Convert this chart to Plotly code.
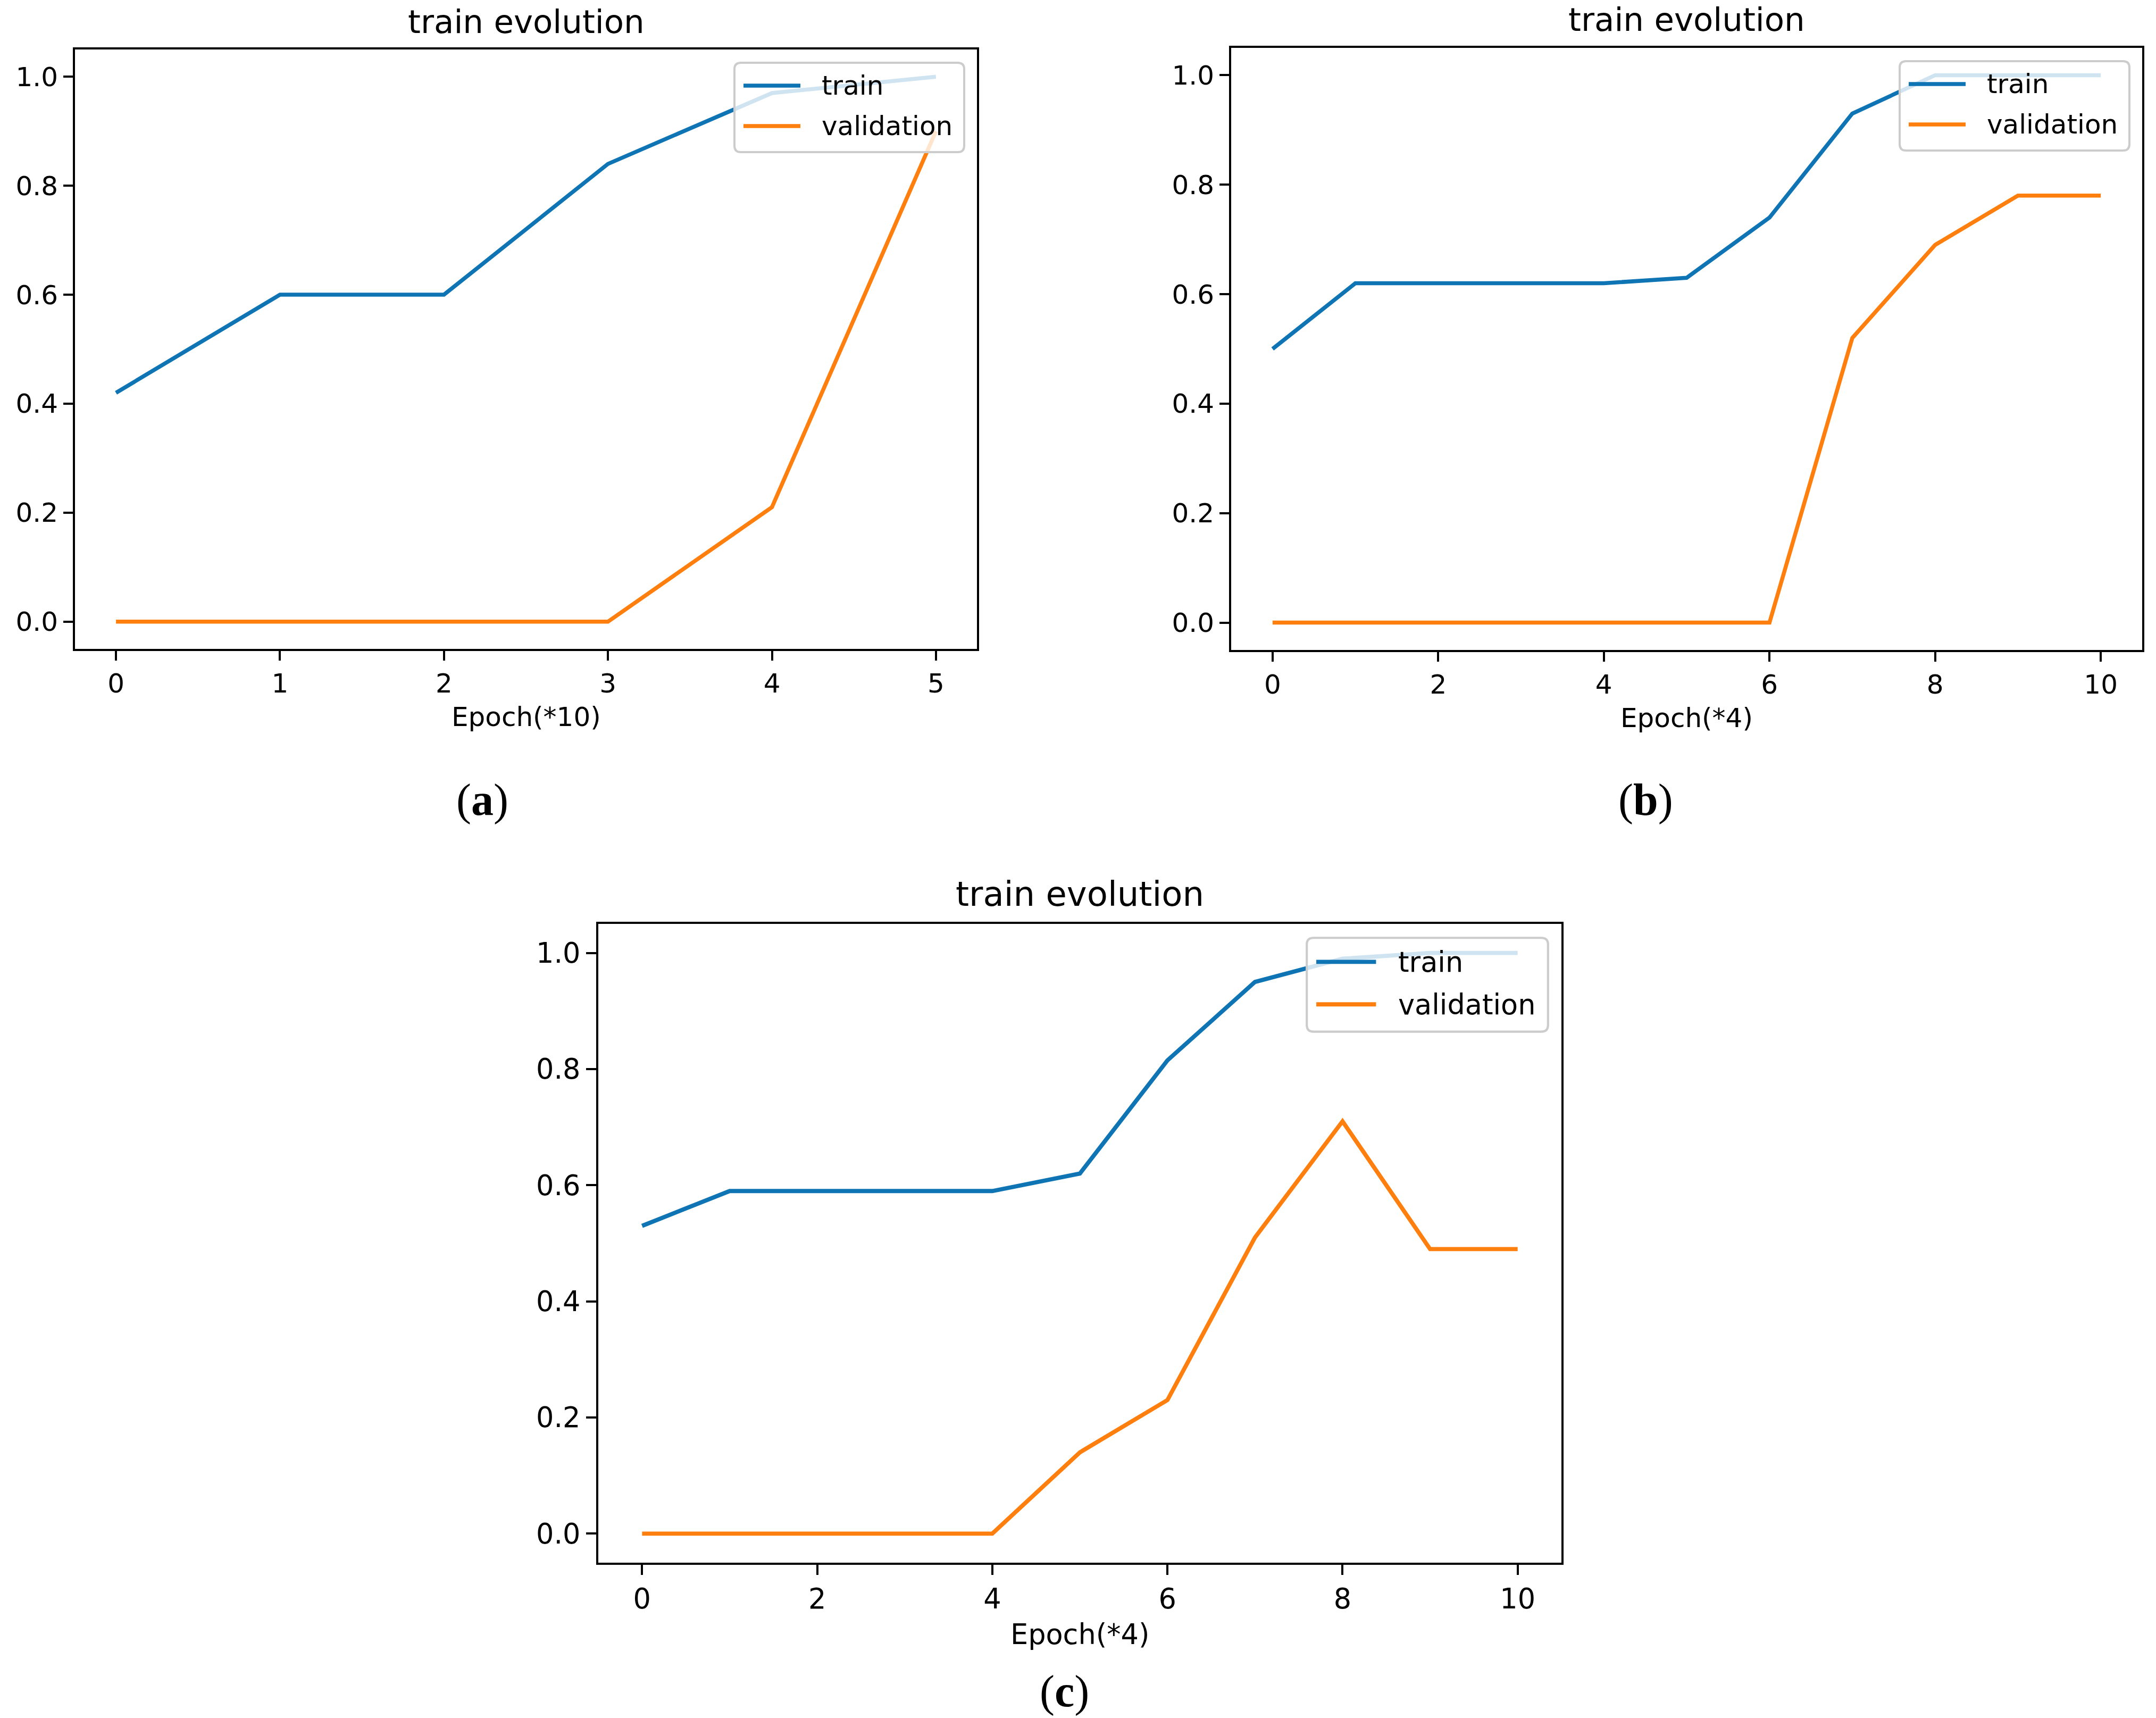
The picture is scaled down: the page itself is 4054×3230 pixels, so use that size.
import plotly.graph_objects as go

# ---------------- data ----------------
epochs_a = [0, 1, 2, 3, 4, 5]
train_a = [0.42, 0.60, 0.60, 0.84, 0.97, 1.00]
val_a = [0.00, 0.00, 0.00, 0.00, 0.21, 0.90]

epochs_b = [0, 1, 2, 3, 4, 5, 6, 7, 8, 9, 10]
train_b = [0.50, 0.62, 0.62, 0.62, 0.62, 0.63, 0.74, 0.93, 1.00, 1.00, 1.00]
val_b = [0.00, 0.00, 0.00, 0.00, 0.00, 0.00, 0.00, 0.52, 0.69, 0.78, 0.78]

epochs_c = [0, 1, 2, 3, 4, 5, 6, 7, 8, 9, 10]
train_c = [0.53, 0.59, 0.59, 0.59, 0.59, 0.62, 0.815, 0.95, 0.99, 1.00, 1.00]
val_c = [0.00, 0.00, 0.00, 0.00, 0.00, 0.14, 0.23, 0.51, 0.71, 0.49, 0.49]

series_names = ["train", "validation"]
titles = ["train evolution", "train evolution", "train evolution"]
xlabels = ["Epoch(*10)", "Epoch(*4)", "Epoch(*4)"]
panel_letters = ["a", "b", "c"]
y_ticks = [0.0, 0.2, 0.4, 0.6, 0.8, 1.0]
x_ticks_a = [0, 1, 2, 3, 4, 5]
x_ticks_bc = [0, 2, 4, 6, 8, 10]

# ---------------- styling / layout ----------------
W, H = 4054, 3230
BLUE = "#0f74b4"
ORANGE = "#ff7f0e"
COLORS = [BLUE, ORANGE]
FONT = "DejaVu Sans"

# axes boxes in pixels (left, right, top, bottom) and per-panel scale
boxes = [
    dict(l=141, r=1837, t=93, b=1220),
    dict(l=2315, r=4028, t=90, b=1222),
    dict(l=1125, r=2936, t=1737, b=2938),
]
scales = [1.0, 1.0, 1.05]
panel_label_pos = [(907, 1504), (3094, 1504), (2001, 3180)]
xlabel_y = [1348, 1350, 3072]


def px(x):
    return x / W


def py(y):
    return 1 - y / H


panels = [
    (epochs_a, train_a, val_a, x_ticks_a),
    (epochs_b, train_b, val_b, x_ticks_bc),
    (epochs_c, train_c, val_c, x_ticks_bc),
]

fig = go.Figure()
shapes = []
annotations = []

for i, (ep, tr, va, xt) in enumerate(panels):
    k = "" if i == 0 else str(i + 1)
    bx = boxes[i]
    s = scales[i]
    lw = 7.5 * s
    for name, vals, col in zip(series_names, [tr, va], COLORS):
        fig.add_trace(go.Scatter(
            x=ep, y=vals, mode="lines", name=name,
            line=dict(color=col, width=lw),
            xaxis="x" + k, yaxis="y" + k, showlegend=False,
        ))
    n = ep[-1] - ep[0]
    xr = [ep[0] - 0.05 * n, ep[-1] + 0.05 * n]
    axis_common = dict(
        showline=True, linecolor="black", linewidth=4 * s, mirror=True,
        ticks="outside", ticklen=18 * s, tickwidth=4 * s, tickcolor="black",
        showgrid=False, zeroline=False,
        tickfont=dict(family=FONT, size=50 * s, color="black"),
    )
    fig.layout["xaxis" + k] = dict(
        domain=[px(bx["l"]), px(bx["r"])], range=xr,
        tickmode="array", tickvals=xt, ticktext=[str(v) for v in xt],
        anchor="y" + k, **axis_common,
    )
    fig.layout["yaxis" + k] = dict(
        domain=[py(bx["b"]), py(bx["t"])], range=[-0.05, 1.05],
        tickmode="array", tickvals=y_ticks,
        ticktext=["%.1f" % v for v in y_ticks],
        anchor="x" + k, **axis_common,
    )
    cx = (bx["l"] + bx["r"]) / 2
    # title
    annotations.append(dict(
        x=px(cx), y=py(bx["t"] - 53 * s), xref="paper", yref="paper",
        text=titles[i], showarrow=False, xanchor="center", yanchor="middle",
        font=dict(family=FONT, size=61 * s, color="black"),
    ))
    # x label
    annotations.append(dict(
        x=px(cx), y=py(xlabel_y[i]), xref="paper", yref="paper",
        text=xlabels[i], showarrow=False, xanchor="center", yanchor="middle",
        font=dict(family=FONT, size=50 * s, color="black"),
    ))
    # panel label
    lx, ly = panel_label_pos[i]
    annotations.append(dict(
        x=px(lx), y=py(ly), xref="paper", yref="paper",
        text="(<b>%s</b>)" % panel_letters[i], showarrow=False,
        xanchor="center", yanchor="middle",
        font=dict(family="Liberation Serif", size=84, color="black"),
    ))
    # legend (matplotlib style, upper right)
    lr = bx["r"] - 24 * s
    lt = bx["t"] + 25 * s
    lwid, lhei, rad = 432 * s, 168 * s, 12 * s
    ll, lb = lr - lwid, lt + lhei
    path = (
        f"M {px(ll + rad)},{py(lt)} L {px(lr - rad)},{py(lt)} "
        f"Q {px(lr)},{py(lt)} {px(lr)},{py(lt + rad)} "
        f"L {px(lr)},{py(lb - rad)} Q {px(lr)},{py(lb)} {px(lr - rad)},{py(lb)} "
        f"L {px(ll + rad)},{py(lb)} Q {px(ll)},{py(lb)} {px(ll)},{py(lb - rad)} "
        f"L {px(ll)},{py(lt + rad)} Q {px(ll)},{py(lt)} {px(ll + rad)},{py(lt)} Z"
    )
    shapes.append(dict(
        type="path", path=path, xref="paper", yref="paper", layer="above",
        fillcolor="rgba(255,255,255,0.8)", line=dict(color="#cccccc", width=4 * s),
    ))
    for j, (name, col) in enumerate(zip(series_names, COLORS)):
        ry = lt + (43 + j * 76) * s
        shapes.append(dict(
            type="line", xref="paper", yref="paper", layer="above",
            x0=px(ll + 17 * s), x1=px(ll + 124 * s), y0=py(ry), y1=py(ry),
            line=dict(color=col, width=lw),
        ))
        annotations.append(dict(
            x=px(ll + 162 * s), y=py(ry), xref="paper", yref="paper",
            text=name, showarrow=False, xanchor="left", yanchor="middle",
            font=dict(family=FONT, size=50 * s, color="black"),
        ))

fig.update_layout(
    width=W, height=H, autosize=False,
    margin=dict(l=0, r=0, t=0, b=0),
    paper_bgcolor="white", plot_bgcolor="white",
    showlegend=False,
    shapes=shapes, annotations=annotations,
    font=dict(family=FONT, color="black"),
)

fig.write_html("out.html", config={"displayModeBar": False},
               post_script="document.body.style.margin='0';")
